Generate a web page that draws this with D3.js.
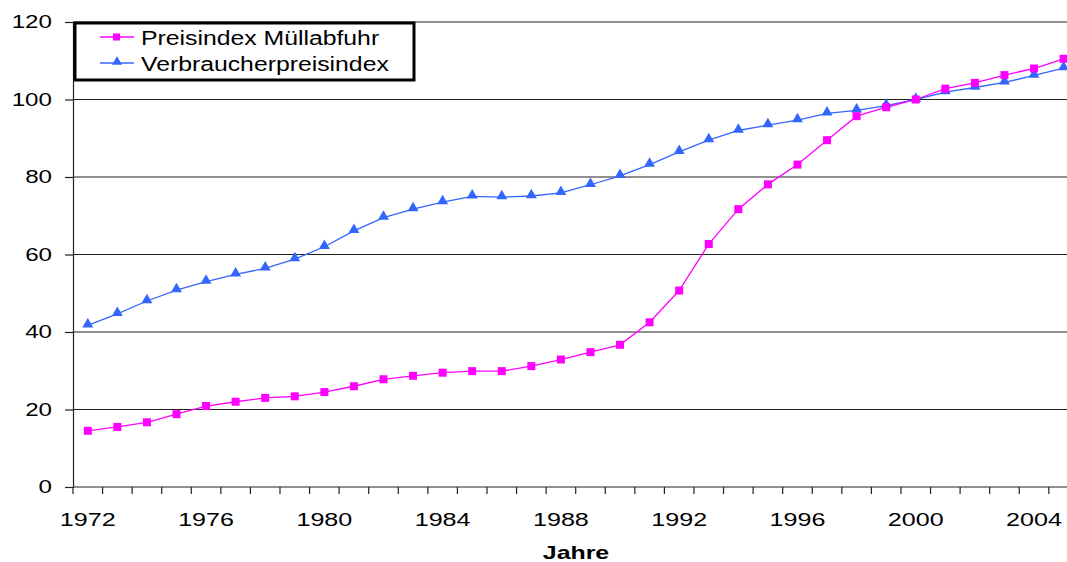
<!DOCTYPE html>
<html>
<head>
<meta charset="utf-8">
<script src="https://cdn.jsdelivr.net/npm/d3@7"></script>
<style>
  html, body { margin: 0; padding: 0; background: #fff; }
  svg { display: block; font-family: "Liberation Sans", Arial, sans-serif; }
</style>
</head>
<body>
<svg id="chart" width="1067" height="562"></svg>
<script>
const years = [1972,1973,1974,1975,1976,1977,1978,1979,1980,1981,1982,1983,1984,1985,1986,1987,1988,1989,1990,1991,1992,1993,1994,1995,1996,1997,1998,1999,2000,2001,2002,2003,2004,2005];
const muell = [14.5,15.5,16.7,18.8,20.9,22.0,23.0,23.4,24.5,26.0,27.8,28.7,29.5,29.9,29.9,31.2,32.9,34.8,36.7,42.5,50.7,62.7,71.7,78.1,83.2,89.5,95.7,98.0,100,102.8,104.3,106.3,108.0,110.5];
const vpi = [41.7,44.7,48.0,50.8,53.0,54.9,56.4,58.8,62.0,66.1,69.5,71.7,73.5,75.0,74.8,75.1,75.9,78.0,80.3,83.2,86.5,89.5,92.0,93.4,94.7,96.4,97.2,98.4,100,101.9,103.1,104.4,106.2,108.1];
const yTicks = [0,20,40,60,80,100,120];
const xLabels = [1972,1976,1980,1984,1988,1992,1996,2000,2004];
const seriesNames = ["Preisindex Müllabfuhr","Verbraucherpreisindex"];
const xTitle = "Jahre";

(function () {
const svg = d3.select("#chart");
const pLeft = 73, pTop = 22, pBottom = 487, band = 29.57;
const x = d3.scaleBand().domain(years).range([pLeft, pLeft + years.length * band]).padding(0);
const y = d3.scaleLinear().domain([0, 120]).range([pBottom, pTop]);
const cx = d => x(d) + x.bandwidth() / 2;

// gridlines
svg.append("g").selectAll("line").data(yTicks.filter(t => t > 0)).join("line")
  .attr("x1", pLeft).attr("x2", 1067)
  .attr("y1", d => y(d)).attr("y2", d => y(d))
  .attr("stroke", "#222").attr("stroke-width", 1.2);

// y axis
const yAxis = svg.append("g").attr("transform", `translate(${pLeft},0)`)
  .call(d3.axisLeft(y).tickValues(yTicks).tickSize(8).tickPadding(12));
yAxis.select(".domain").attr("stroke", "#222").attr("stroke-width", 1.2);
yAxis.selectAll(".tick line").attr("stroke", "#222").attr("stroke-width", 1.2);
yAxis.selectAll(".tick text").attr("font-size", 18.6).attr("fill", "#000")
  .attr("font-family", "Liberation Sans, Arial, sans-serif")
  .attr("transform", "scale(1.3,1)").attr("x", -21 / 1.3);

// x axis: domain + boundary ticks
const xg = svg.append("g");
xg.append("line").attr("x1", pLeft).attr("x2", 1067).attr("y1", pBottom).attr("y2", pBottom)
  .attr("stroke", "#222").attr("stroke-width", 1.2);
const bounds = years.map(d => x(d)).concat([x(years[years.length - 1]) + x.bandwidth()]);
xg.selectAll("line.b").data(bounds).join("line").attr("class", "b")
  .attr("x1", d => d).attr("x2", d => d).attr("y1", pBottom).attr("y2", pBottom + 7)
  .attr("stroke", "#222").attr("stroke-width", 1.2);
xg.selectAll("text").data(xLabels).join("text")
  .attr("transform", d => `translate(${cx(d)},526) scale(1.35,1)`)
  .attr("text-anchor", "middle").attr("font-size", 18.6).attr("fill", "#000")
  .text(d => d);

svg.append("text").attr("transform", "translate(576,559) scale(1.31,1)")
  .attr("text-anchor", "middle").attr("font-size", 19).attr("font-weight", "bold")
  .text(xTitle);

// lines
const line = vals => d3.line().x((d, i) => cx(years[i])).y(d => y(d))(vals);
svg.append("path").attr("d", line(vpi)).attr("fill", "none").attr("stroke", "#3366FF").attr("stroke-width", 1.3);
svg.append("path").attr("d", line(muell)).attr("fill", "none").attr("stroke", "#FF00FF").attr("stroke-width", 1.3);

const tri = d3.symbol().type(d3.symbolTriangle).size(52);
svg.append("g").selectAll("path").data(vpi).join("path")
  .attr("d", tri).attr("transform", (d, i) => `translate(${cx(years[i])},${y(d) - 1})`)
  .attr("fill", "#3366FF");
svg.append("g").selectAll("rect").data(muell).join("rect")
  .attr("x", (d, i) => cx(years[i]) - 4).attr("y", d => y(d) - 4)
  .attr("width", 8).attr("height", 8).attr("fill", "#FF00FF");

// legend
const lg = svg.append("g");
lg.append("rect").attr("x", 75).attr("y", 23).attr("width", 339).attr("height", 57)
  .attr("fill", "#fff").attr("stroke", "#000").attr("stroke-width", 3);
const legendRows = [
  {name: seriesNames[0], color: "#FF00FF", type: "square", yy: 37},
  {name: seriesNames[1], color: "#3366FF", type: "tri", yy: 63}
];
legendRows.forEach(r => {
  lg.append("line").attr("x1", 100).attr("x2", 134).attr("y1", r.yy).attr("y2", r.yy)
    .attr("stroke", r.color).attr("stroke-width", 1.3);
  if (r.type === "square") {
    lg.append("rect").attr("x", 113).attr("y", r.yy - 3.5).attr("width", 7).attr("height", 7).attr("fill", r.color);
  } else {
    lg.append("path").attr("d", d3.symbol().type(d3.symbolTriangle).size(42))
      .attr("transform", `translate(117,${r.yy - 1})`).attr("fill", r.color);
  }
  lg.append("text").attr("transform", `translate(141,${r.yy + 7.5}) scale(1.18,1)`)
    .attr("font-size", 21).attr("fill", "#000").text(r.name);
});
})();
</script>
</body>
</html>
